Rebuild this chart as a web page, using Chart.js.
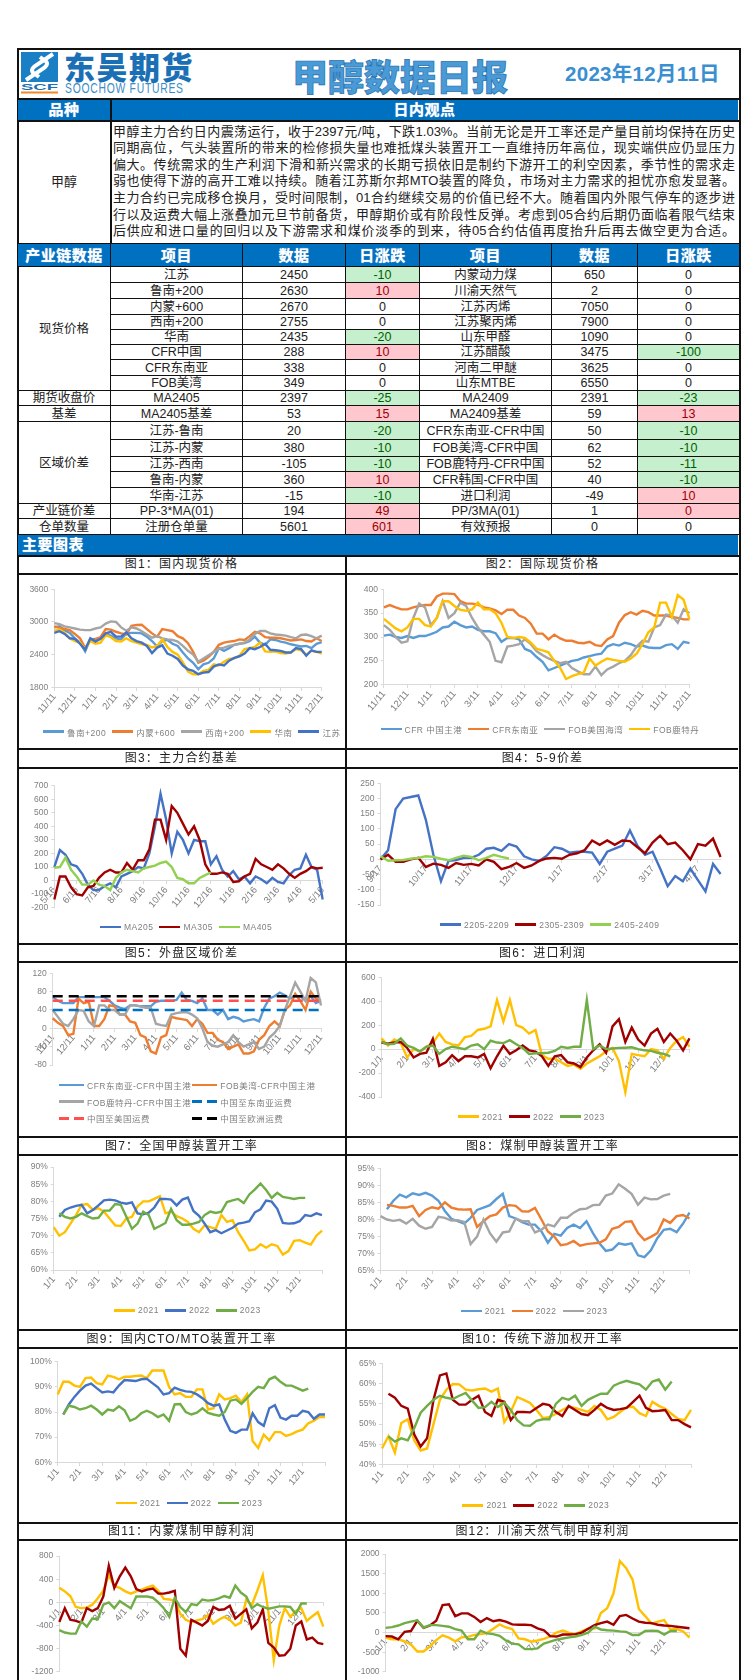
<!DOCTYPE html>
<html lang="zh">
<head>
<meta charset="utf-8">
<title>甲醇数据日报</title>
<script src="https://cdn.jsdelivr.net/npm/chart.js@4"></script>
<style>
  html, body { margin: 0; padding: 0; background: #fff; }
  body { position: relative; width: 756px; height: 1680px; overflow: hidden;
    font-family: "Liberation Sans", "Noto Sans CJK SC", sans-serif; color: #222; }
  .abs { position: absolute; }
  #frame { left: 17px; top: 48px; width: 720px; height: 1640px; border: 2px solid #111; }
  .band { background: #0070c0; color: #fff; font-weight: 700; font-size: 15px; text-align: center;
    letter-spacing: .5px; text-shadow: 0 0 1px #cfe4f5; }
  .hline { background: #111; height: 1.5px; }
  .vline { background: #111; width: 1.5px; }
  #view div { white-space: nowrap; text-align: justify; text-align-last: justify; height: 16.6px; line-height: 16.6px; font-size: 13px; }
  #tbl { left: 17px; top: 243px; width: 722px; border-collapse: collapse; table-layout: fixed; font-size: 12.5px; }
  #tbl td, #tbl th { border: 1px solid #111; padding: 1px 0 0; text-align: center; line-height: 13px; overflow: hidden; white-space: nowrap; }
  #tbl th { background: #0070c0; color: #fff; font-size: 15px; letter-spacing: .5px; text-shadow: 0 0 1px #cfe4f5; }
  #tbl .g { background: #c6efce; color: #006100; }
  #tbl .r { background: #ffc7ce; color: #9c0006; }
  .title { text-align: center; font-size: 12px; letter-spacing: 1.2px; color: #222; }
  .legend { display: grid; align-items: center; font-size: 8.5px; letter-spacing: .5px; color: #7f7f7f; white-space: nowrap; justify-content: start; }
  .legend span.item { display: flex; align-items: center; }
  .legend i { display: inline-block; height: 2.5px; margin-right: 3px; }
</style>
</head>
<body>

<div id="frame" class="abs"></div>

<!-- logo -->
<svg class="abs" style="left:21px;top:52px" width="38" height="42" viewBox="0 0 38 42">
  <rect x="0" y="0" width="37" height="30" fill="#1b7fc6"/>
  <path d="M32 2 L14 14 Q8 19 14 22 L18 25 M5 28 L23 16 Q29 11 23 8 L19 5" fill="none" stroke="#fff" stroke-width="4"/>
  <text x="0" y="38" font-family="Liberation Sans" font-weight="700" font-size="9" fill="#1b6fb5" textLength="37" lengthAdjust="spacingAndGlyphs">SCF</text>
  <rect x="0" y="39.5" width="37" height="2" fill="#f08a24"/>
</svg>
<div class="abs" style="left:64px;top:48px;font:900 31px 'Noto Sans CJK SC';letter-spacing:1.5px;color:#1b6fb5;line-height:36px">东吴期货</div>
<div class="abs" style="left:65px;top:82px;font:14px 'Liberation Sans';letter-spacing:1px;color:#3c8dc5;line-height:13px;white-space:nowrap;transform:scaleX(.74);transform-origin:0 0">SOOCHOW FUTURES</div>
<div class="abs" style="left:292px;top:54px;font:900 36px 'Noto Sans CJK SC';color:#4a9ad6;-webkit-text-stroke:.7px #1f6fae;line-height:42px;white-space:nowrap">甲醇数据日报</div>
<div class="abs" style="left:565px;top:62px;font:700 20.5px 'Liberation Sans','Noto Sans CJK SC';letter-spacing:.3px;color:#3a8fd0;line-height:24px;white-space:nowrap">2023年12月11日</div>

<!-- view block -->
<div class="abs hline" style="left:17px;top:98px;width:722px"></div>
<div class="abs band" style="left:18px;top:99.5px;width:92px;height:20px;line-height:20px">品种</div>
<div class="abs band" style="left:111px;top:99.5px;width:627px;height:20px;line-height:20px">日内观点</div>
<div class="abs hline" style="left:17px;top:120px;width:722px"></div>
<div class="abs vline" style="left:110px;top:99px;height:144px"></div>
<div class="abs" style="left:18px;top:172px;width:92px;text-align:center;font-size:13px;line-height:20px">甲醇</div>
<div id="view" class="abs" style="left:113px;top:123.6px;width:622px">
  <div>甲醇主力合约日内震荡运行，收于2397元/吨，下跌1.03%。当前无论是开工率还是产量目前均保持在历史</div>
  <div>同期高位，气头装置所的带来的检修损失量也难抵煤头装置开工一直维持历年高位，现实端供应仍显压力</div>
  <div>偏大。传统需求的生产利润下滑和新兴需求的长期亏损依旧是制约下游开工的利空因素，季节性的需求走</div>
  <div>弱也使得下游的高开工难以持续。随着江苏斯尔邦MTO装置的降负，市场对主力需求的担忧亦愈发显著。</div>
  <div>主力合约已完成移仓换月，受时间限制，01合约继续交易的价值已经不大。随着国内外限气停车的逐步进</div>
  <div>行以及运费大幅上涨叠加元旦节前备货，甲醇期价或有阶段性反弹。考虑到05合约后期仍面临着限气结束</div>
  <div>后供应和进口量的回归以及下游需求和煤价淡季的到来，待05合约估值再度抬升后再去做空更为合适。</div>
</div>

<!-- data table -->
<table id="tbl" class="abs">
  <colgroup><col style="width:93px"><col style="width:132px"><col style="width:103px"><col style="width:74px"><col style="width:132px"><col style="width:86px"><col style="width:102px"></colgroup>
  <tr style="height:23px"><th>产业链数据</th><th>项目</th><th>数据</th><th>日涨跌</th><th>项目</th><th>数据</th><th>日涨跌</th></tr>
  <tr style="height:16px"><td rowspan="8">现货价格</td><td>江苏</td><td>2450</td><td class="g">-10</td><td>内蒙动力煤</td><td>650</td><td>0</td></tr>
  <tr style="height:16px"><td>鲁南+200</td><td>2630</td><td class="r">10</td><td>川渝天然气</td><td>2</td><td>0</td></tr>
  <tr style="height:16px"><td>内蒙+600</td><td>2670</td><td>0</td><td>江苏丙烯</td><td>7050</td><td>0</td></tr>
  <tr style="height:15px"><td>西南+200</td><td>2755</td><td>0</td><td>江苏聚丙烯</td><td>7900</td><td>0</td></tr>
  <tr style="height:15px"><td>华南</td><td>2435</td><td class="g">-20</td><td>山东甲醛</td><td>1090</td><td>0</td></tr>
  <tr style="height:15px"><td>CFR中国</td><td>288</td><td class="r">10</td><td>江苏醋酸</td><td>3475</td><td class="g">-100</td></tr>
  <tr style="height:16px"><td>CFR东南亚</td><td>338</td><td>0</td><td>河南二甲醚</td><td>3625</td><td>0</td></tr>
  <tr style="height:15px"><td>FOB美湾</td><td>349</td><td>0</td><td>山东MTBE</td><td>6550</td><td>0</td></tr>
  <tr style="height:15px"><td>期货收盘价</td><td>MA2405</td><td>2397</td><td class="g">-25</td><td>MA2409</td><td>2391</td><td class="g">-23</td></tr>
  <tr style="height:16px"><td>基差</td><td>MA2405基差</td><td>53</td><td class="r">15</td><td>MA2409基差</td><td>59</td><td class="r">13</td></tr>
  <tr style="height:18px"><td rowspan="5">区域价差</td><td>江苏-鲁南</td><td>20</td><td class="g">-20</td><td>CFR东南亚-CFR中国</td><td>50</td><td class="g">-10</td></tr>
  <tr style="height:17px"><td>江苏-内蒙</td><td>380</td><td class="g">-10</td><td>FOB美湾-CFR中国</td><td>62</td><td class="g">-10</td></tr>
  <tr style="height:15px"><td>江苏-西南</td><td>-105</td><td class="g">-10</td><td>FOB鹿特丹-CFR中国</td><td>52</td><td class="g">-11</td></tr>
  <tr style="height:16px"><td>鲁南-内蒙</td><td>360</td><td class="r">10</td><td>CFR韩国-CFR中国</td><td>40</td><td class="g">-10</td></tr>
  <tr style="height:16px"><td>华南-江苏</td><td>-15</td><td class="g">-10</td><td>进口利润</td><td>-49</td><td class="r">10</td></tr>
  <tr style="height:15px"><td>产业链价差</td><td>PP-3*MA(01)</td><td>194</td><td class="r">49</td><td>PP/3MA(01)</td><td>1</td><td class="r">0</td></tr>
  <tr style="height:16px"><td>仓单数量</td><td>注册仓单量</td><td>5601</td><td class="r">601</td><td>有效预报</td><td>0</td><td>0</td></tr>
</table>

<div class="abs band" style="left:18px;top:534.5px;width:720px;height:20px;line-height:20px;text-align:left;text-indent:4px">主要图表</div>
<div class="abs hline" style="left:17px;top:555px;width:722px"></div>
<div class="abs vline" style="left:345px;top:555px;height:1125px"></div>

<div id="charts"></div>

<script>
// tick labels
const ticks1 = ["11/11","12/11","1/11","2/11","3/11","4/11","5/11","6/11","7/11","8/11","9/11","10/11","11/11","12/11"];
const ticks3 = ["5/16","6/16","7/16","8/16","9/16","10/16","11/16","12/16","1/16","2/16","3/16","4/16","5/16"];
const ticks4 = ["9/17","10/17","11/17","12/17","1/17","2/17","3/17","4/17"];
const ticksYear = ["1/1","2/1","3/1","4/1","5/1","6/1","7/1","8/1","9/1","10/1","11/1","12/1"];

// 图1 国内现货价格
const lunan = [2900,2920,2850,2800,2700,2620,2460,2680,2690,2700,2780,2750,2700,2680,2790,2800,2800,2790,2730,2650,2550,2650,2670,2600,2560,2440,2330,2250,2130,2220,2250,2330,2520,2470,2520,2580,2600,2610,2650,2730,2620,2580,2680,2670,2640,2620,2590,2570,2550,2560,2520,2600,2630];
const neimeng = [2920,2890,2870,2850,2780,2700,2520,2660,2680,2720,2870,2860,2820,2790,2770,2930,2945,2950,2870,2790,2730,2870,2850,2830,2740,2700,2610,2450,2250,2290,2360,2450,2580,2620,2640,2650,2680,2670,2740,2820,2790,2720,2710,2710,2700,2680,2660,2670,2680,2650,2640,2700,2650];
const xinan = [2980,2960,2920,2900,2880,2860,2850,2850,2880,2900,2970,3010,3000,2900,2840,2900,2880,2830,2770,2710,2740,2700,2680,2670,2640,2560,2470,2400,2270,2330,2390,2450,2510,2530,2560,2580,2600,2620,2680,2780,2835,2835,2790,2770,2760,2750,2720,2700,2760,2770,2740,2700,2750];
const huanan = [2840,2860,2800,2700,2650,2620,2500,2650,2600,2620,2760,2720,2650,2640,2700,2650,2620,2590,2580,2530,2560,2680,2540,2450,2400,2260,2090,2040,2040,2100,2120,2220,2200,2270,2320,2330,2380,2500,2520,2540,2620,2460,2450,2460,2430,2420,2440,2500,2480,2400,2470,2450,2420];
const jiangsu = [2800,2830,2780,2700,2690,2600,2490,2700,2640,2690,2790,2820,2730,2730,2810,2700,2650,2620,2560,2430,2530,2570,2420,2380,2320,2200,2130,2100,2040,2070,2080,2180,2220,2200,2290,2340,2370,2420,2520,2500,2540,2600,2490,2480,2470,2440,2440,2520,2500,2380,2480,2450,2450];

// 图2 国际现货价格
const cfrChina = [303,305,300,298,302,298,302,302,306,311,320,322,332,325,320,322,315,312,312,308,290,298,298,295,275,270,258,248,230,235,240,245,250,252,257,260,263,265,280,285,282,288,285,280,282,278,277,277,283,285,275,290,287];
const cfrAsean = [362,367,362,358,358,362,365,367,367,385,391,391,390,375,370,370,368,362,360,356,348,357,357,345,340,328,307,307,295,305,297,292,292,288,287,290,283,281,295,302,330,346,352,347,355,352,345,345,345,342,340,337,337];
const fobUs = [325,315,300,288,291,340,370,362,325,340,375,340,350,372,365,340,320,305,290,250,247,280,282,285,295,285,270,262,255,250,245,248,235,228,222,222,238,220,232,238,245,250,262,280,292,290,320,325,347,345,330,358,350];
const fobRdm = [338,328,318,312,320,338,338,325,322,340,375,375,365,357,355,358,372,358,358,350,330,300,298,300,298,288,275,272,268,250,235,212,218,222,225,255,240,248,255,252,250,248,255,265,285,310,320,372,372,342,388,378,337];

// 图3 主力合约基差
const ma205 = [100,225,190,120,105,50,-30,-70,-70,-40,-20,-50,30,50,70,100,90,200,400,640,450,200,360,300,200,300,290,290,120,180,80,30,70,10,30,-20,30,10,-20,20,-10,-20,40,80,90,190,100,80,-140];
const ma305 = [-140,30,30,-50,-100,-110,-50,-40,20,60,80,60,60,130,80,150,150,230,450,450,300,550,500,420,340,400,300,120,50,50,60,50,-10,-5,30,50,160,120,100,80,120,90,50,20,50,70,100,90,95];
const ma405 = [95,100,170,80,30,-30,-30,0,-30,-40,-70,20,60,80,70,60,90,100,110,130,140,100,20,10,-20,-20,20,40,60];

// 图4 5-9价差
const sp2205 = [0,30,165,200,205,210,130,15,-72,-5,-2,5,5,15,35,38,28,50,42,10,0,-5,12,40,35,22,25,25,22,-15,25,35,45,95,45,15,25,-30,-88,-55,-72,-30,-68,-105,-15,-48];
const sp2305 = [0,15,-8,-8,0,5,-25,-14,-18,-28,-12,-18,-15,-20,0,-8,-32,-25,-12,-28,-20,-5,3,5,2,15,20,30,62,48,62,48,62,60,40,20,55,78,50,55,30,0,50,45,68,8];
const sp2405 = [10,-5,-3,-2,2,5,10,8,2,-3,5,12,8,-3,5,15,8,3];

// 图5 外盘区域价差
const gapAsean = [68,60,55,55,55,68,68,68,68,68,68,60,50,45,42,50,50,48,48,48,58,60,60,60,62,78,62,60,55,65,40,40,30,40,20,25,22,15,18,20,15,45,65,70,78,72,65,70,70,60,70,55,60];
const gapUs = [22,12,5,-15,-12,65,55,58,5,5,20,50,48,30,30,15,12,-15,-20,-50,-55,-20,-15,25,22,20,18,5,20,10,-10,-10,-25,-30,-45,-40,-35,-55,-55,-50,-25,-15,5,15,5,40,50,75,60,40,80,65,60];
const gapRdm = [40,25,10,5,20,40,38,15,5,50,50,40,40,30,30,50,50,48,45,45,10,7,5,30,33,35,35,30,22,0,-30,-38,-40,-35,-30,-15,-30,-40,-35,-30,-45,-40,-20,-10,5,40,70,100,80,60,110,100,50];
const freightAsean = [40,40,40,40,40,40,40,40,40,40,40,40,40,40,40,40,40,40,40,40,40,40,40,40,40,40,40,40,40,40,40,40,40,40,40,40,40,40,40,40,40,40,40,40,40,40,40,40,40,40,40,40,40];
const freightUs = [60,60,60,60,60,60,60,60,60,60,60,60,60,60,60,60,60,60,60,60,60,60,60,60,60,60,60,60,60,60,60,60,60,60,60,60,60,60,60,60,60,60,60,60,60,60,60,60,60,60,60,60,60];
const freightEu = [70,70,70,70,70,70,70,70,70,70,70,70,70,70,70,70,70,70,70,70,70,70,70,70,70,70,70,70,70,70,70,70,70,70,70,70,70,70,70,70,70,70,70,70,70,70,70,70,70,70,70,70,70];

// 图6 进口利润
const imp2021 = [90,30,80,50,-70,0,-20,20,50,130,60,40,30,100,110,160,170,190,410,230,410,200,180,130,160,-50,-80,-80,-110,-140,-130,-165,-120,-90,-60,-20,10,-100,-360,-40,-50,-60,0,-10,-80,10,70,100,20];
const imp2022 = [55,45,55,60,10,-70,-40,-30,85,-140,-110,-50,-100,-60,-60,-70,-40,-160,-60,30,-40,-10,30,-10,-20,-60,-140,-60,-50,-110,-120,-150,-70,-10,40,-30,190,250,60,180,80,30,130,170,60,130,70,-10,90];
const imp2023 = [60,40,45,90,30,10,-20,20,30,-40,0,20,10,0,30,40,0,70,55,50,75,40,10,-40,-35,-35,-30,-15,20,10,20,20,410,0,30,0,5,10,12,15,0,-10,-15,-30,-40,-60];

// 图7 全国甲醇装置开工率
const all2021 = [72.5,70,71,73.5,76,79,79.2,77.5,78,77,75,73,72.8,75,75.5,78.5,80,80,80.7,81.5,76.5,77,75.7,75,74,72,71,73,72.5,72,76,74,74.5,71,68.5,65.7,66,67.5,66.5,67.5,67,64.5,65.5,68.5,68.7,68,67.4,70,71.5];
const all2022 = [null,75.5,77.5,78.2,78.7,79,76.5,77.5,78.8,80.3,80.5,80.3,79.6,79.3,79.7,76.5,76.2,76.7,78.2,80.7,80.7,80.5,78.8,80.5,81.1,77.2,75.8,73.5,71,71.6,70.7,71.5,72.3,73.5,73.8,74.2,76.8,77.7,80.2,79.9,77.8,73.7,73.5,73.6,74.2,76,75.7,76.5,76];
const all2023 = [null,76.5,75.5,75,75.5,76.5,75.7,75,75.2,77.3,77.3,79.2,79,75.5,72,73.5,77,76,72,72.8,73.7,77.8,74.5,73.2,73.2,73.5,74,76,77,76.6,77,79.8,80.3,80.7,79.5,82,83.5,85.2,83.3,81,82.5,81.3,81,80.7,81,81];

// 图8 煤制甲醇装置开工率
const coal2021 = [null,83,85.5,87.3,86.5,87.7,87.2,87.8,87,85.5,82.5,80.2,79.5,78.8,80.5,82.8,83.5,84.2,86,87.5,81,80.3,79.2,78.5,78.5,76.5,73.2,75.8,75.3,77.5,78.5,77.5,79.5,76,73,70.8,71.2,73,72.6,73,69.5,69,71,74.5,77,77.3,76.3,78.8,82];
const coal2022 = [null,84.3,84,83.5,83.5,84,81,82.8,83.6,83.2,85,83.5,83,82.9,83,77.8,79.5,81,81.5,83.5,84.2,84,82.4,82.3,83.4,80,76.5,75,72.5,72.8,73.7,72.3,72.8,73,73.2,74.2,77.3,77.8,79.3,79.5,76,74,74.9,76,80,79,81,81.3,80.3];
const coal2023 = [81,80,79.6,79.9,78.8,80.2,78.2,77.3,77.8,80.8,80.5,79.7,79.8,79.3,72.8,75,80,76,73.5,76.2,76.5,80.3,79.5,79.5,76.2,77,78.5,78,80.5,80.5,82,83,83.2,84.2,84.3,87,87.6,90.3,89,87.5,84.3,86.4,85.9,86,87,87.5];

// 图9 国内CTO/MTO装置开工率
const mto2021 = [87,92,92,90.5,90,93.5,93.7,91.5,91,94.5,94,93,94,94,94.3,94.5,93.5,96.5,96.5,96.5,90,87,87.5,86,86,89,89,81,81.5,87,85,85.5,86.5,84,87,68.5,65.7,71,68.7,72,72,70.5,71.2,72.3,73,75.5,76.5,78,78];
const mto2022 = [null,79,83,86,88.5,90.5,91.3,89.5,87.8,88.2,87.8,90.5,92.7,92.5,92.3,93,93.2,91.5,89.8,87,87.5,89.7,88.8,88.2,88,87,85.5,83.5,82.5,83,77,72.5,71.7,73,73,79.5,76,74.5,81.5,82.7,77.8,77,78.5,78.5,80.5,80,77.3,79,79];
const mto2023 = [null,79,82.5,82,81,81.5,82.5,81,79,81,80.5,82.3,80.7,76.5,77.5,79.5,80.5,79.5,78,79,76.5,83,83.2,80,79,79.7,81.5,79.6,79,78.5,80,84.5,85,83.2,85.5,88,90,89.5,93,94,92,90.5,90.5,89.5,88.5,89.3];

// 图10 传统下游加权开工率
const down2021 = [44,47,43,50.3,51.2,46,43.5,44,50,56,58.5,59.9,59.8,58.5,58.3,58.6,58.8,58,58.8,50.5,53,56.7,56,55.2,53.5,51.5,51.8,52.5,53.5,54.3,54,53.5,53,54.5,53.5,51.2,51.8,53,54.2,54.3,52.7,52,55.5,54.5,53.8,52.5,51.3,51,53.5];
const down2022 = [null,57.5,56.5,54.5,53.8,47.5,44.5,46.5,56,62,62.5,56,54.8,54.8,56,57,53,52,56,55.5,51,53,53,52.9,54,55,54.7,53,52,54.5,53.5,52.5,52.2,53.5,55,54,53.5,53.7,54,55.5,57,54,53.2,53.3,53.5,51,51,50,49.2];
const down2023 = [null,47,45.7,46.5,46,49,52.8,54.5,56,57,56.5,56.2,57,57.7,55.8,54,54.2,55.5,54.2,55.3,53.5,51,49.7,49.6,50.8,51.2,51.2,55,56.5,56,57,54.5,56,56.8,57.5,57.5,59.5,60.2,60.7,60.2,59.8,58.5,60.5,61,58.5,60.5];

// 图11 内蒙煤制甲醇利润
const nm2021 = [250,190,110,-80,-100,-90,-40,70,200,470,280,250,190,150,190,220,260,290,200,60,50,30,-200,-300,-340,-310,-290,-220,-370,-300,-250,-300,-400,-350,50,-50,200,470,-150,-1000,-400,-100,-250,-150,-100,-320,-240,-170,-420];
const nm2022 = [-340,-100,-300,-320,-350,-100,-150,-100,100,630,250,450,600,450,230,190,220,240,150,150,170,200,-800,-920,-300,-350,-400,-320,-80,-130,-120,-60,-280,-200,-120,-450,-350,-120,-700,-780,-920,-910,-800,-400,-330,-640,-610,-700,-720];
const nm2023 = [-480,-520,-540,-540,-330,-420,-280,-290,-40,0,-100,20,-40,-100,100,100,100,80,0,-100,-250,80,-80,-170,-30,-50,50,30,40,70,110,80,290,170,100,-100,-30,-80,-110,-90,-70,-70,-80,-200,-20,-20];

// 图12 川渝天然气制甲醇利润
const sc2021 = [-130,-170,-170,-220,-300,-480,-480,-350,-190,-70,-130,-220,-120,-110,-60,-40,-10,100,210,130,90,-150,-170,-230,-200,-160,-100,0,50,-10,-40,40,100,100,500,620,1000,1820,1640,1350,600,420,230,280,320,80,90,30,-130];
const sc2022 = [-90,-100,-170,20,40,300,120,180,300,700,720,420,490,490,400,270,370,290,320,280,210,200,200,190,110,60,-90,-100,-50,-50,-40,0,100,190,240,280,200,420,450,360,280,250,240,200,180,170,150,130,110];
const sc2023 = [120,140,180,240,280,310,130,190,190,170,150,90,50,-170,-170,50,-20,-40,-80,-200,-280,-300,-420,-420,-400,-280,-230,-180,-150,-120,-100,-60,0,150,80,60,50,30,20,-60,-60,40,50,40,-50,40,40];

const BLUE = "#5b9bd5", ORANGE = "#ed7d31", GRAY = "#a5a5a5", YELLOW = "#ffc000",
    NAVY = "#4472c4", RED = "#a00000", LIME = "#92d050", GREEN = "#70ad47";
const AXIS = "#d9d9d9", LABEL = "#7f7f7f";
const FONT = '"Liberation Sans", "Noto Sans CJK SC", sans-serif';

const LEFT = { x: 18, w: 327 };
const RIGHT = { x: 347, w: 391 };

const chartList = [
    { title: "图1：国内现货价格", col: LEFT, top: 555, head: 19, bottom: 749, plot: [54.3, 589.3, 321.7, 687.3],
      min: 1800, max: 3600, step: 600, cross: 1800, ticks: ticks1, per: 4,
      names: ["鲁南+200", "内蒙+600", "西南+200", "华南", "江苏"], series: [lunan, neimeng, xinan, huanan, jiangsu],
      colors: [BLUE, ORANGE, GRAY, YELLOW, NAVY], legend: [43, 731.7, 21] },
    { title: "图2：国际现货价格", col: RIGHT, top: 555, head: 19, bottom: 749, plot: [383.9, 589.3, 689.5, 684.7],
      min: 200, max: 400, step: 50, cross: 200, ticks: ticks1, per: 4,
      names: ["CFR 中国主港", "CFR东南亚", "FOB美国海湾", "FOB鹿特丹"], series: [cfrChina, cfrAsean, fobUs, fobRdm],
      colors: [BLUE, ORANGE, GRAY, YELLOW], legend: [380.5, 729, 21] },
    { title: "图3：主力合约基差", col: LEFT, top: 749, head: 19, bottom: 944, plot: [54.3, 785.7, 322.7, 907.7],
      min: -200, max: 700, step: 100, cross: 0, ticks: ticks3, per: 4,
      names: ["MA205", "MA305", "MA405"], series: [ma205, ma305, ma405],
      colors: [NAVY, RED, LIME], legend: [100, 927, 21] },
    { title: "图4：5-9价差", col: RIGHT, top: 749, head: 19, bottom: 944, plot: [380.5, 783.3, 720.6, 905],
      min: -150, max: 250, step: 50, cross: 0, ticks: ticks4, per: 6,
      names: ["2205-2209", "2305-2309", "2405-2409"], series: [sp2205, sp2305, sp2405],
      colors: [NAVY, RED, LIME], legend: [440, 924.7, 21] },
    { title: "图5：外盘区域价差", col: LEFT, top: 944, head: 18, bottom: 1137, plot: [52.7, 973.3, 321, 1065],
      min: -80, max: 120, step: 40, cross: 0, ticks: ticks1, per: 4,
      names: ["CFR东南亚-CFR中国主港", "FOB美湾-CFR中国主港", "FOB鹿特丹-CFR中国主港", "中国至东南亚运费", "中国至美国运费", "中国至欧洲运费"],
      series: [gapAsean, gapUs, gapRdm, freightAsean, freightUs, freightEu],
      colors: [BLUE, ORANGE, GRAY, "#0070c0", "#ff5050", "#000000"], dashed: [3, 4, 5],
      legend: [59, 1085, 25, 2, 16.7, 1] },
    { title: "图6：进口利润", col: RIGHT, top: 944, head: 18, bottom: 1137, plot: [381.5, 977.3, 689.5, 1097],
      min: -400, max: 600, step: 200, cross: 0, ticks: ticksYear, per: 4,
      names: ["2021", "2022", "2023"], series: [imp2021, imp2022, imp2023],
      colors: [YELLOW, RED, GREEN], legend: [458, 1116.7, 21] },
    { title: "图7：全国甲醇装置开工率", col: LEFT, top: 1137, head: 18, bottom: 1330, plot: [53.7, 1167, 322, 1270],
      min: 60, max: 90, step: 5, cross: 60, pct: true, ticks: ticksYear, per: 4,
      names: ["2021", "2022", "2023"], series: [all2021, all2022, all2023],
      colors: [YELLOW, NAVY, GREEN], legend: [114, 1310.3, 21] },
    { title: "图8：煤制甲醇装置开工率", col: RIGHT, top: 1137, head: 18, bottom: 1330, plot: [380.5, 1168.3, 689.5, 1270.7],
      min: 65, max: 95, step: 5, cross: 65, pct: true, ticks: ticksYear, per: 4,
      names: ["2021", "2022", "2023"], series: [coal2021, coal2022, coal2023],
      colors: [BLUE, ORANGE, GRAY], legend: [460.7, 1311, 21] },
    { title: "图9：国内CTO/MTO装置开工率", col: LEFT, top: 1330, head: 18, bottom: 1523, plot: [57.7, 1361.7, 325, 1462.3],
      min: 60, max: 100, step: 10, cross: 60, pct: true, ticks: ticksYear, per: 4,
      names: ["2021", "2022", "2023"], series: [mto2021, mto2022, mto2023],
      colors: [YELLOW, NAVY, GREEN], legend: [115.7, 1503, 21] },
    { title: "图10：传统下游加权开工率", col: RIGHT, top: 1330, head: 18, bottom: 1523, plot: [382, 1363.3, 691, 1464.7],
      min: 40, max: 65, step: 5, cross: 40, pct: true, ticks: ticksYear, per: 4,
      names: ["2021", "2022", "2023"], series: [down2021, down2022, down2023],
      colors: [YELLOW, RED, GREEN], legend: [462.4, 1505.3, 21] },
    { title: "图11：内蒙煤制甲醇利润", col: LEFT, top: 1523, head: 17, bottom: 1680, plot: [59.3, 1556, 323.3, 1676.7],
      min: -1200, max: 800, step: 400, cross: 0, ticks: ticksYear, per: 4,
      names: ["2021", "2022", "2023"], series: [nm2021, nm2022, nm2023],
      colors: [YELLOW, RED, GREEN] },
    { title: "图12：川渝天然气制甲醇利润", col: RIGHT, top: 1523, head: 17, bottom: 1680, plot: [385.6, 1554, 689.5, 1676.7],
      min: -1000, max: 2000, step: 500, cross: 0, ticks: ticksYear, per: 4,
      names: ["2021", "2022", "2023"], series: [sc2021, sc2022, sc2023],
      colors: [YELLOW, RED, GREEN] },
];

function addDiv(className, css, text) {
    const el = document.createElement("div");
    el.className = "abs " + className;
    el.style.cssText = css;
    if (text) el.textContent = text;
    document.getElementById("charts").appendChild(el);
    return el;
}

function drawLegend(cfg, chart) {
    if (!cfg.legend) return;
    const [x, y, swatch, cols, rowGap, gap] = cfg.legend;
    const box = addDiv("legend", `left:${x}px;top:${y - 6}px;height:12px;`);
    box.style.gridTemplateColumns = `repeat(${cols || chart.data.datasets.length}, auto)`;
    box.style.columnGap = (gap === undefined ? 6 : gap) + "px";
    if (rowGap) {
        box.style.gridAutoRows = rowGap + "px";
        box.style.height = "auto";
        box.style.top = y - rowGap / 2 + "px";
    }
    chart.data.datasets.forEach((ds) => {
        const item = document.createElement("span");
        item.className = "item";
        const mark = document.createElement("i");
        mark.style.width = swatch + "px";
        mark.style.background = ds.borderDash
            ? `repeating-linear-gradient(90deg, ${ds.borderColor} 0 10px, transparent 10px 15px)`
            : ds.borderColor;
        item.appendChild(mark);
        item.appendChild(document.createTextNode(ds.label));
        box.appendChild(item);
    });
}

function drawChart(cfg) {
    const { col, plot } = cfg;
    const canvasTop = cfg.top + cfg.head + 1;
    addDiv("title", `left:${col.x}px;width:${col.w}px;top:${cfg.top}px;height:${cfg.head}px;line-height:${cfg.head}px;`, cfg.title);
    addDiv("hline", `left:${col.x}px;width:${col.w}px;top:${cfg.top + cfg.head - 1}px;`);
    if (cfg.bottom < 1680) addDiv("hline", `left:${col.x}px;width:${col.w}px;top:${cfg.bottom - 1}px;`);

    const canvas = document.createElement("canvas");
    const height = cfg.bottom - canvasTop;
    canvas.width = col.w;
    canvas.height = height;
    canvas.className = "abs";
    canvas.style.cssText = `left:${col.x}px;top:${canvasTop}px;width:${col.w}px;height:${height}px;`;
    document.getElementById("charts").appendChild(canvas);

    const count = Math.max(...cfg.series.map((s) => s.length));
    const labels = [];
    for (let i = 0; i < count; i++) {
        labels.push(i % cfg.per === 0 ? cfg.ticks[i / cfg.per] || "" : "");
    }

    const chart = new Chart(canvas.getContext("2d"), {
        type: "line",
        data: {
            labels: labels,
            datasets: cfg.series.map((s, i) => ({
                label: cfg.names[i],
                data: s,
                borderColor: cfg.colors[i],
                borderWidth: 2.4,
                borderDash: cfg.dashed && cfg.dashed.includes(i) ? [10, 6] : undefined,
                pointRadius: 0,
                tension: 0,
                fill: false,
                order: cfg.series.length - i,
            })),
        },
        options: {
            responsive: false,
            animation: false,
            events: [],
            devicePixelRatio: 1,
            layout: {
                padding: {
                    left: 0,
                    top: plot[1] - canvasTop,
                    right: col.x + col.w - plot[2],
                    bottom: cfg.bottom - plot[3],
                },
            },
            plugins: { legend: { display: false }, tooltip: { enabled: false } },
            scales: {
                x: {
                    type: "category",
                    position: { y: cfg.cross },
                    offset: false,
                    border: { color: AXIS },
                    grid: {
                        drawOnChartArea: false,
                        tickLength: 3,
                        tickColor: (ctx) => (ctx.index % cfg.per === 0 ? AXIS : "transparent"),
                    },
                    ticks: {
                        autoSkip: false,
                        minRotation: 50,
                        maxRotation: 50,
                        padding: 1,
                        color: LABEL,
                        font: { family: FONT, size: 9.5 },
                    },
                },
                y: {
                    min: cfg.min,
                    max: cfg.max,
                    afterFit: (scale) => {
                        scale.width = plot[0] - col.x;
                    },
                    border: { color: AXIS },
                    grid: { drawOnChartArea: false, tickLength: 3, tickColor: AXIS },
                    ticks: {
                        stepSize: cfg.step,
                        padding: 3,
                        color: LABEL,
                        font: { family: FONT, size: 8.5 },
                        callback: (v) => (cfg.pct ? v + "%" : v),
                    },
                },
            },
        },
    });
    drawLegend(cfg, chart);
}

chartList.forEach(drawChart);
</script>
</body>
</html>
